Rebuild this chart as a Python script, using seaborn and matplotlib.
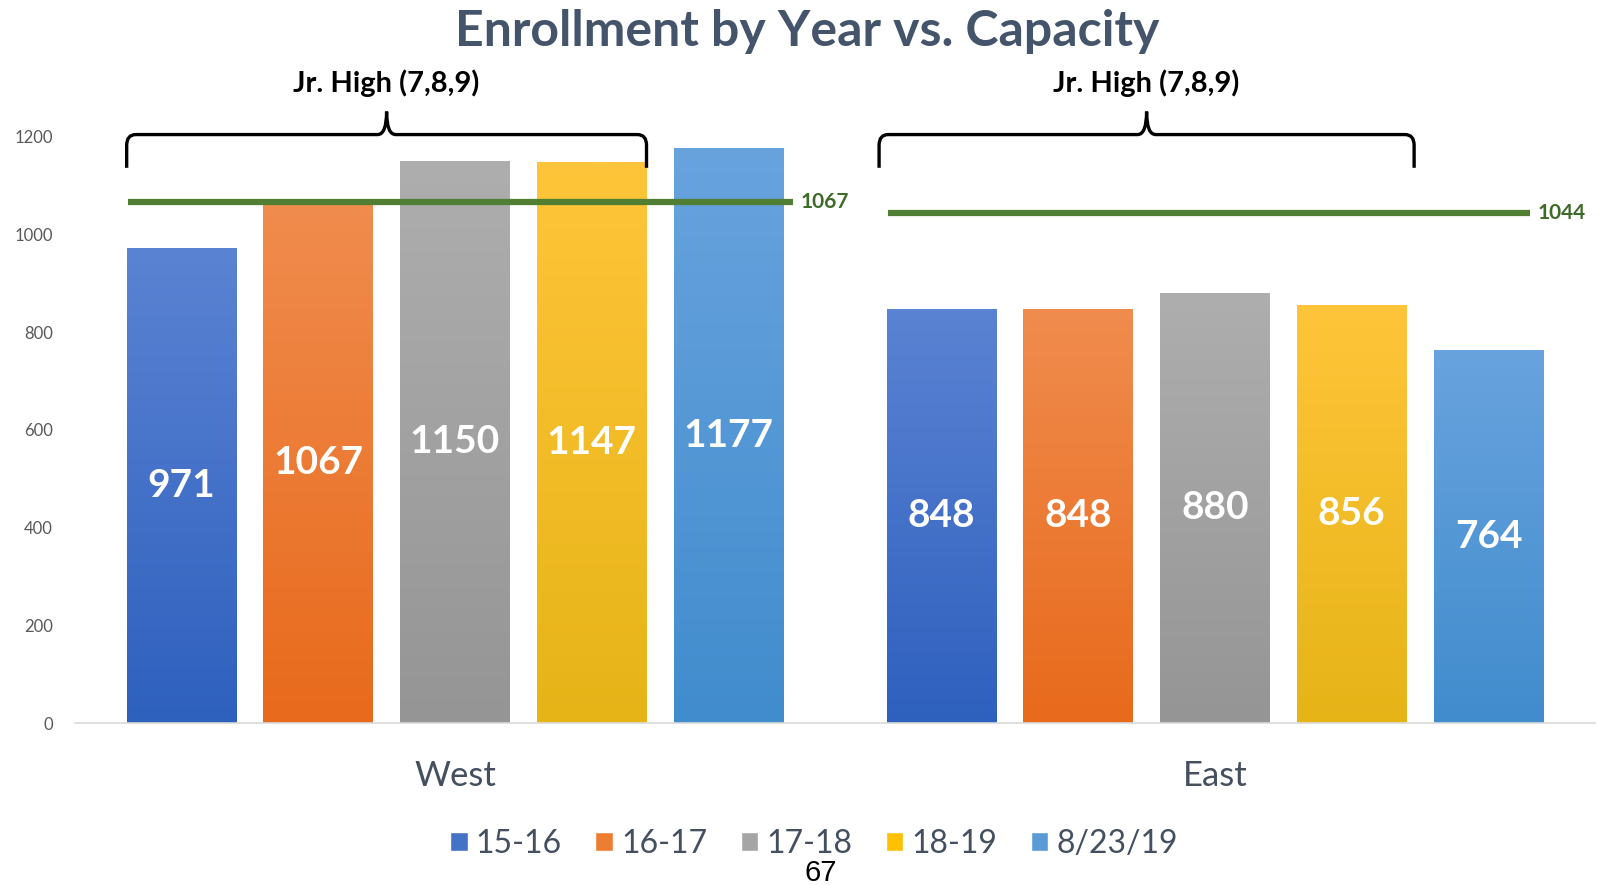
import numpy as np
import pandas as pd
import seaborn as sns
import matplotlib.pyplot as plt
from matplotlib.path import Path
from matplotlib.patches import PathPatch, Patch
from matplotlib.colors import LinearSegmentedColormap

# data
schools = ['West', 'East']
years = ['15-16', '16-17', '17-18', '18-19', '8/23/19']
west = [971, 1067, 1150, 1147, 1177]
east = [848, 848, 880, 856, 764]
capacity = [1067, 1044]
bracket_label = 'Jr. High (7,8,9)'

colors = ['#4472C4', '#ED7D31', '#A5A5A5', '#FFC000', '#5B9BD5']
tops = ['#5B83D3', '#F08C4E', '#AEAEAE', '#FFC53A', '#68A3DE']
bottoms = ['#2E60BE', '#E86A1C', '#959595', '#E6B417', '#418CCD']

df = pd.DataFrame({
    'school': np.repeat(schools, len(years)),
    'year': years * len(schools),
    'enrollment': west + east,
})

sns.set_style('white')
plt.rcParams['font.family'] = ['Lato', 'DejaVu Sans']

fig = plt.figure(figsize=(16.05, 8.85), dpi=100)
ax = fig.add_axes([75 / 1605, 162 / 885, 1520 / 1605, 694 / 885])

sns.barplot(data=df, x='school', y='enrollment', hue='year', hue_order=years,
            palette=colors, width=0.9, gap=0.2, legend=False, ax=ax)

# gradient fill on each bar
for i, cont in enumerate(ax.containers):
    cmap = LinearSegmentedColormap.from_list('g%d' % i, [bottoms[i], tops[i]])
    for bar in cont:
        x0, y0 = bar.get_x(), bar.get_y()
        w, h = bar.get_width(), bar.get_height()
        grad = np.linspace(0, 1, 256).reshape(-1, 1)
        im = ax.imshow(grad, cmap=cmap, origin='lower', aspect='auto',
                       extent=(x0, x0 + w, y0, y0 + h), zorder=bar.get_zorder())
        im.set_clip_path(bar)
    ax.bar_label(cont, label_type='center', fmt='%d', color='white',
                 fontsize=28, fontweight='bold', zorder=5)
ax.set_xlim(-0.5, 1.5)
ax.set_ylim(0, 1420)

# capacity lines
line_ext = [(-0.43, 0.445), (-0.43, 0.415)]
for g, (cap, (a, b)) in enumerate(zip(capacity, line_ext)):
    ax.hlines(cap, g + a, g + b, color='#507E32', lw=4.5, zorder=6)
    ax.text(g + b + 0.01, cap, str(cap), color='#3E6B28', fontsize=15,
            fontweight='bold', va='center', ha='left')


def bracket(x0, x1, y_arm=1136, y_top=1204, y_tip=1251, rx=0.012, ry=22):
    xc = (x0 + x1) / 2
    verts = [(x0, y_arm), (x0, y_top - ry), (x0, y_top), (x0 + rx, y_top),
             (xc - rx, y_top), (xc, y_top), (xc, y_tip),
             (xc, y_top), (xc + rx, y_top),
             (x1 - rx, y_top), (x1, y_top), (x1, y_top - ry), (x1, y_arm)]
    codes = [Path.MOVETO, Path.LINETO, Path.CURVE3, Path.CURVE3,
             Path.LINETO, Path.CURVE3, Path.CURVE3,
             Path.CURVE3, Path.CURVE3,
             Path.LINETO, Path.CURVE3, Path.CURVE3, Path.LINETO]
    ax.add_patch(PathPatch(Path(verts, codes), fill=False, lw=2.4,
                           edgecolor='black', clip_on=False, zorder=7))
    ax.text(xc, 1310, bracket_label, ha='center', va='center', fontsize=21,
            fontweight='bold', color='black')


for g in range(len(schools)):
    left = ax.containers[0][g]
    right = ax.containers[3][g]
    bracket(left.get_x() - 0.01 * g, right.get_x() + right.get_width() + 0.01 * g)

fig.text(807 / 1605, 1 - 31 / 885, 'Enrollment by Year vs. Capacity', fontsize=36,
         fontweight='bold', color='#44546A', ha='center', va='center')

ax.set_xlabel('')
ax.set_ylabel('')
ax.set_yticks(range(0, 1201, 200))
ax.tick_params(axis='y', length=0, pad=16, labelsize=12, labelcolor='#595959')
ax.tick_params(axis='x', length=0, pad=27, labelsize=25, labelcolor='#44505F')
for s in ['top', 'right', 'left']:
    ax.spines[s].set_visible(False)
ax.spines['bottom'].set_color('#D9D9D9')
ax.spines['bottom'].set_linewidth(1.2)

handles = [Patch(facecolor=c, label=y) for c, y in zip(colors, years)]
fig.legend(handles=handles, loc='center', bbox_to_anchor=(814 / 1605, 41 / 885),
           ncol=5, frameon=False, fontsize=23, labelcolor='#44505F',
           handlelength=0.55, handleheight=0.55, handletextpad=0.25, columnspacing=1.05)

fig.text(821 / 1605, 12 / 885, '67', fontsize=21, family='Liberation Sans',
         ha='center', va='center', color='black')

fig.savefig('out.png', dpi=100)
